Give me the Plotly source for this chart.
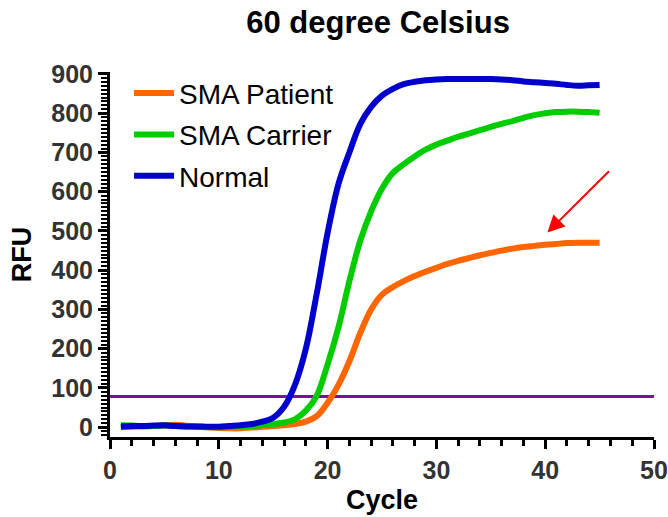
import plotly.graph_objects as go

cycles = list(range(1, 46))
sma_patient = [0, 1, 2, 3, 5, 6, 4, 2, 0, -2, -3, -3, -1, 1, 3, 5, 8, 14, 28, 62,
               108, 168, 240, 300, 338, 357, 372, 385, 396, 406, 416, 424, 431, 438, 444,
               450, 455, 459, 462, 465, 467, 469, 470, 470, 470]
sma_carrier = [5, 4, 3, 3, 4, 3, 2, 1, 0, 0, 1, 2, 3, 5, 8, 12, 20, 42, 80, 160,
               255, 372, 475, 550, 608, 648, 670, 690, 707, 720, 730, 740, 748, 757, 765,
               773, 780, 788, 795, 800, 803, 804, 804, 803, 801]
normal = [2, 3, 3, 4, 5, 3, 2, 2, 1, 1, 3, 5, 8, 14, 24, 52, 108, 200, 340, 495,
          620, 700, 772, 816, 845, 862, 874, 880, 884, 886, 887, 887, 887, 887, 887,
          886, 884, 881, 879, 877, 875, 872, 870, 871, 872]
series_names = ["SMA Patient", "SMA Carrier", "Normal"]
series_colors = ["#FF6600", "#00CC00", "#0000CC"]
threshold = 78
x_range = [0, 50]
arrow_tail = (46.0, 656)
arrow_tip = (40.2, 496)

FONT = "Liberation Sans, Arial"

fig = go.Figure()
for name, vals, col in zip(series_names, [sma_patient, sma_carrier, normal], series_colors):
    fig.add_trace(go.Scatter(x=cycles, y=vals, mode="lines", name=name, legendgroup=name,
                             line=dict(color=col, width=6, shape="spline")))

fig.add_shape(type="line", xref="x", yref="y", x0=x_range[0], x1=x_range[1],
              y0=threshold, y1=threshold, opacity=1,
              line=dict(color="#7A0F9E", width=3), layer="below")

fig.add_annotation(x=arrow_tip[0], y=arrow_tip[1], ax=arrow_tail[0], ay=arrow_tail[1],
                   xref="x", yref="y", axref="x", ayref="y", text="", showarrow=True,
                   arrowhead=2, arrowsize=1.7, arrowwidth=2, arrowcolor="#FF0000")

axis_common = dict(showline=True, linecolor="#000000", linewidth=3, ticks="outside",
                   tickcolor="#000000", tickwidth=3, ticklen=9, showgrid=False, zeroline=False,
                   automargin=False,
                   tickfont=dict(family=FONT, size=25, color="#333333", weight="bold"))

fig.update_xaxes(range=x_range, dtick=10, tick0=0, tickmode="linear",
                 minor=dict(dtick=2, ticks="outside", ticklen=6, tickwidth=3, tickcolor="#000000", showgrid=False),
                 title=dict(text="<b>Cycle</b>", font=dict(family=FONT, size=27, color="black"), standoff=8),
                 **axis_common)
fig.update_yaxes(range=[-25, 905], dtick=100, tick0=0, tickmode="linear",
                 minor=dict(dtick=10, ticks="outside", ticklen=6, tickwidth=2, tickcolor="#000000", showgrid=False),
                 title=dict(text="<b>RFU</b>", font=dict(family=FONT, size=27, color="black"), standoff=12),
                 **axis_common)

fig.update_layout(
    template="simple_white",
    width=668, height=517,
    margin=dict(l=110, r=14, t=72, b=80, autoexpand=False),
    plot_bgcolor="white", paper_bgcolor="white",
    title=dict(text="<b>60 degree Celsius</b>", x=0.566, xanchor="center", y=0.957, yanchor="middle",
               font=dict(family=FONT, size=31, color="black")),
    legend=dict(x=0.035, y=1.01, xanchor="left", yanchor="top", bgcolor="rgba(0,0,0,0)",
                font=dict(family=FONT, size=28, color="black"),
                itemwidth=40, tracegroupgap=2),
    showlegend=True,
)

fig.write_html("out.html")
